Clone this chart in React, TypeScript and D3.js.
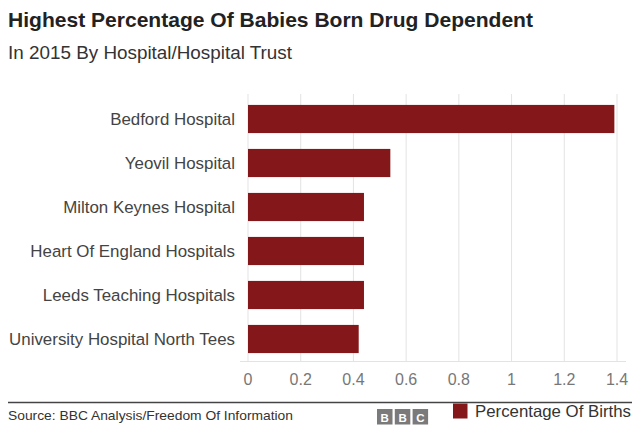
import React from "react";
import * as d3 from "d3";

const categories = [
  "Bedford Hospital",
  "Yeovil Hospital",
  "Milton Keynes Hospital",
  "Heart Of England Hospitals",
  "Leeds Teaching Hospitals",
  "University Hospital North Tees",
];
const values = [1.39, 0.54, 0.44, 0.44, 0.44, 0.42];
const xTicks = [0, 0.2, 0.4, 0.6, 0.8, 1, 1.2, 1.4];

const W = 640;
const H = 430;
const FONT = "'Liberation Sans', Arial, Helvetica, sans-serif";
const BAR = "#841719";

export default function App() {
  const x = d3.scaleLinear().domain([0, 1.4]).range([248, 617]);
  const y = d3.scaleBand<string>().domain(categories).range([97, 361]).paddingInner(0.36).paddingOuter(0.18);

  return (
    <svg width={W} height={H} style={{ position: "absolute", left: 0, top: 0 }} fontFamily={FONT}>
      <rect width={W} height={H} fill="#fff" />
      <text x={8} y={27} fontSize={21} fontWeight="bold" fill="#222" textLength={525} lengthAdjust="spacingAndGlyphs">
        Highest Percentage Of Babies Born Drug Dependent
      </text>
      <text x={8} y={58.5} fontSize={17.5} fill="#333" textLength={284} lengthAdjust="spacingAndGlyphs">
        In 2015 By Hospital/Hospital Trust
      </text>
      {xTicks.map((t) => (
        <line key={t} x1={x(t)} x2={x(t)} y1={94} y2={361} stroke="#e3e3e3" strokeWidth={1} />
      ))}
      <line x1={240} x2={626} y1={361.5} y2={361.5} stroke="#e3e3e3" strokeWidth={1} />
      {categories.map((c, i) => (
        <g key={c}>
          <rect x={x(0)} y={y(c)!} width={x(values[i]) - x(0)} height={y.bandwidth()} fill={BAR} />
          <text x={235} y={y(c)! + y.bandwidth() / 2} dy="0.36em" textAnchor="end" fontSize={16.9} fill="#444">
            {c}
          </text>
        </g>
      ))}
      {xTicks.map((t) => (
        <text key={t} x={x(t)} y={385} textAnchor="middle" fontSize={16} fill="#777">
          {String(t)}
        </text>
      ))}
      <line x1={8} x2={632} y1={402.5} y2={402.5} stroke="#444" strokeWidth={1.3} />
      <text x={8} y={420} fontSize={13.6} fill="#333" textLength={285} lengthAdjust="spacingAndGlyphs">
        Source: BBC Analysis/Freedom Of Information
      </text>
      {["B", "B", "C"].map((l, i) => (
        <g key={i}>
          <rect x={377 + i * 17.8} y={409} width={15.5} height={15.5} fill="#7a7a7a" />
          <text x={377 + i * 17.8 + 7.75} y={421.5} textAnchor="middle" fontSize={11.5} fontWeight="bold" fill="#fff">
            {l}
          </text>
        </g>
      ))}
      <rect x={453} y={403.5} width={14.5} height={15} fill={BAR} />
      <text x={475} y={416.7} fontSize={16.5} fill="#333" textLength={156} lengthAdjust="spacingAndGlyphs">
        Percentage Of Births
      </text>
    </svg>
  );
}
